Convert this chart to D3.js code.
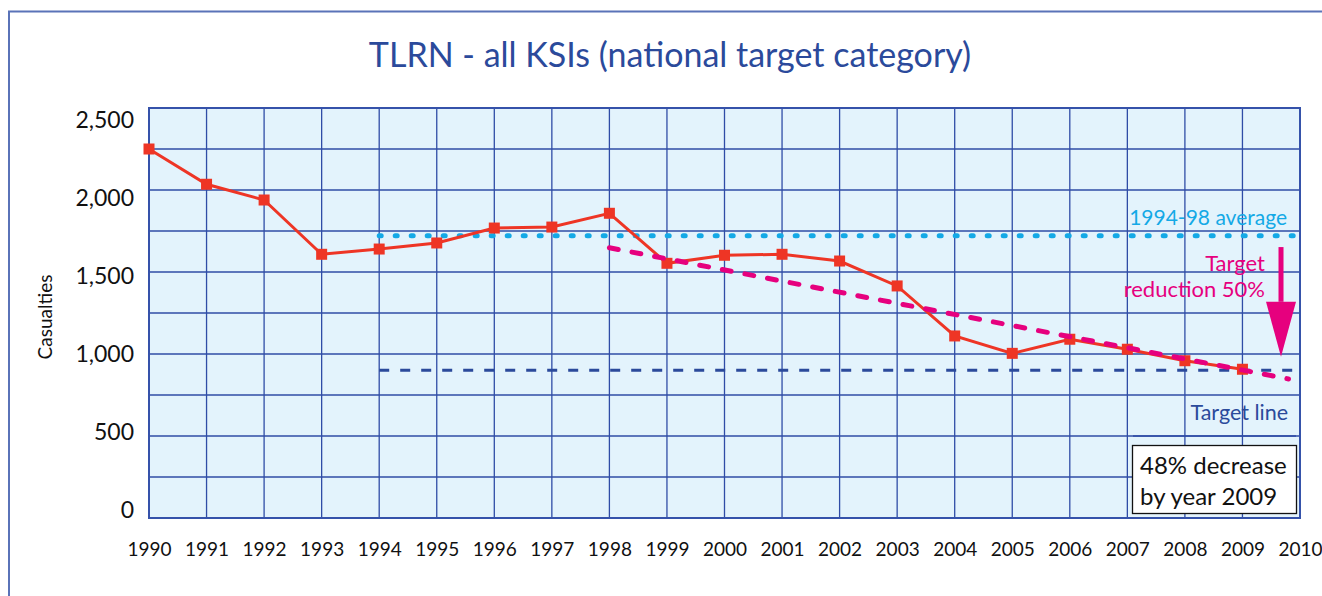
<!DOCTYPE html>
<html>
<head>
<meta charset="utf-8">
<script src="https://cdn.jsdelivr.net/npm/d3@7"></script>
<style>
  body { margin: 0; background: #fff; }
  svg { display: block; font-family: Lato, "Noto Sans", sans-serif; }
</style>
</head>
<body>
<svg id="chart" width="1322" height="596"></svg>
<script>
// data
const years = [1990, 1991, 1992, 1993, 1994, 1995, 1996, 1997, 1998, 1999,
               2000, 2001, 2002, 2003, 2004, 2005, 2006, 2007, 2008, 2009];
const casualties = [2250, 2035, 1939, 1608, 1640, 1677, 1768, 1774, 1858, 1553,
                    1602, 1608, 1567, 1415, 1110, 1004, 1090, 1029, 959, 907];
const xTickLabels = [1990, 1991, 1992, 1993, 1994, 1995, 1996, 1997, 1998, 1999, 2000,
                     2001, 2002, 2003, 2004, 2005, 2006, 2007, 2008, 2009, 2010];
const yTickLabels = [0, 500, 1000, 1500, 2000, 2500];
const yGrid = [0, 250, 500, 750, 1000, 1250, 1500, 1750, 2000, 2250, 2500];
const averageLine = [[1994, 1721], [2010, 1721]];
const targetLine = [[1994, 901], [2010, 901]];
const trendLine = [[1998, 1648], [2009.8, 848]];
const arrowYear = 2009.67, arrowFrom = 1652, arrowTo = 983;

const svg = d3.select('#chart');
const margin = {top: 108, left: 149, right: 22, bottom: 78};
const width = 1322, height = 596;

const x = d3.scaleLinear().domain([1990, 2010]).range([margin.left, width - margin.right]);
const y = d3.scaleLinear().domain([0, 2500]).range([height - margin.bottom, margin.top]);
// tick labels in the original sit on a slightly tighter spacing than the grid
const yLabel = d3.scaleLinear().domain([0, 2500]).range([510, 120]);

const gridColor = '#2f4ca6';
const blue = '#2b4a9b';

// outer frame
svg.append('path')
  .attr('d', 'M9,596 V11.5 H1322')
  .attr('fill', 'none').attr('stroke', '#5a73b8').attr('stroke-width', 2);

// title
svg.append('text')
  .attr('x', 670).attr('y', 67)
  .attr('text-anchor', 'middle')
  .attr('fill', blue)
  .attr('font-size', 34)
  .text('TLRN - all KSIs (national target category)');

// plot background
svg.append('rect')
  .attr('x', x(1990)).attr('y', y(2500))
  .attr('width', x(2010) - x(1990)).attr('height', y(0) - y(2500))
  .attr('fill', '#e3f3fc');

// grid
svg.append('g')
  .selectAll('line')
  .data(yGrid)
  .join('line')
  .attr('x1', x(1990)).attr('x2', x(2010))
  .attr('y1', d => y(d)).attr('y2', d => y(d))
  .attr('stroke', gridColor).attr('stroke-width', 1.3);

svg.append('g')
  .selectAll('line')
  .data(xTickLabels)
  .join('line')
  .attr('x1', d => x(d)).attr('x2', d => x(d))
  .attr('y1', y(2500)).attr('y2', y(0))
  .attr('stroke', gridColor).attr('stroke-width', 1.3);

svg.append('rect')
  .attr('x', x(1990)).attr('y', y(2500))
  .attr('width', x(2010) - x(1990)).attr('height', y(0) - y(2500))
  .attr('fill', 'none').attr('stroke', '#3552aa').attr('stroke-width', 2);

// axes (labels only)
const xAxis = svg.append('g')
  .attr('transform', 'translate(0,' + (y(0) + 21) + ')')
  .call(d3.axisBottom(x).tickValues(xTickLabels).tickFormat(d3.format('d')).tickSize(0));
xAxis.select('.domain').remove();
xAxis.selectAll('text')
  .attr('font-size', 19).attr('fill', '#111').attr('font-family', 'Lato, sans-serif');

const yAxis = svg.append('g')
  .attr('transform', 'translate(' + 134 + ',0)')
  .call(d3.axisLeft(yLabel).tickValues(yTickLabels).tickFormat(d3.format(',')).tickSize(0).tickPadding(0));
yAxis.select('.domain').remove();
yAxis.selectAll('text')
  .attr('font-size', 23).attr('fill', '#111').attr('font-family', 'Lato, sans-serif');

svg.append('text')
  .attr('transform', 'translate(52,317) rotate(-90)')
  .attr('text-anchor', 'middle')
  .attr('font-size', 19).attr('fill', '#111')
  .text('Casualties');

const line = d3.line().x(d => x(d[0])).y(d => y(d[1]));

// target line (dark blue dashed)
svg.append('path')
  .attr('d', line(targetLine))
  .attr('fill', 'none').attr('stroke', blue)
  .attr('stroke-width', 3).attr('stroke-dasharray', '10,11');

// 1994-98 average (cyan dotted)
svg.append('path')
  .attr('d', line(averageLine))
  .attr('fill', 'none').attr('stroke', '#14a9e6')
  .attr('stroke-width', 5).attr('stroke-linecap', 'round')
  .attr('stroke-dasharray', '2,14');

// casualties series
const series = years.map((yr, i) => [yr, casualties[i]]);
svg.append('path')
  .attr('d', line(series))
  .attr('fill', 'none').attr('stroke', '#ee3525').attr('stroke-width', 3);

svg.append('g')
  .selectAll('rect')
  .data(series)
  .join('rect')
  .attr('x', d => x(d[0]) - 5.5).attr('y', d => y(d[1]) - 5.5)
  .attr('width', 11).attr('height', 11)
  .attr('fill', '#ee3525');

// target reduction trend (magenta dashed)
svg.append('path')
  .attr('d', line(trendLine))
  .attr('fill', 'none').attr('stroke', '#e6007e')
  .attr('stroke-width', 5).attr('stroke-linecap', 'round')
  .attr('stroke-dasharray', '9,14');

// arrow
const ax = x(arrowYear);
const headBase = y(arrowTo) - 55;
svg.append('rect')
  .attr('x', ax - 2.5).attr('y', y(arrowFrom))
  .attr('width', 5).attr('height', headBase - y(arrowFrom))
  .attr('fill', '#e6007e');
svg.append('path')
  .attr('d', 'M' + (ax - 15) + ',' + headBase + ' L' + (ax + 15) + ',' + headBase + ' L' + ax + ',' + y(arrowTo) + 'Z')
  .attr('fill', '#e6007e');

// annotations
svg.append('text')
  .attr('x', 1287).attr('y', 225).attr('text-anchor', 'end')
  .attr('font-size', 21).attr('fill', '#14a9e6')
  .text('1994-98 average');

const tr = svg.append('text')
  .attr('text-anchor', 'end').attr('font-size', 22).attr('fill', '#e6007e');
tr.append('tspan').attr('x', 1265).attr('y', 271).text('Target');
tr.append('tspan').attr('x', 1265).attr('y', 297).text('reduction 50%');

svg.append('text')
  .attr('x', 1288).attr('y', 420).attr('text-anchor', 'end')
  .attr('font-size', 21.5).attr('fill', blue)
  .text('Target line');

// decrease box
svg.append('rect')
  .attr('x', 1132.5).attr('y', 445.5).attr('width', 164).attr('height', 68)
  .attr('fill', '#fff').attr('stroke', '#111').attr('stroke-width', 1.3);
svg.append('line')
  .attr('x1', 1133).attr('x2', 1296).attr('y1', y(500)).attr('y2', y(500))
  .attr('stroke', gridColor).attr('stroke-width', 1.3);
const bx = svg.append('text').attr('font-size', 24).attr('fill', '#111');
bx.append('tspan').attr('x', 1140).attr('y', 474).text('48% decrease');
bx.append('tspan').attr('x', 1140).attr('y', 505).text('by year 2009');
</script>
</body>
</html>
